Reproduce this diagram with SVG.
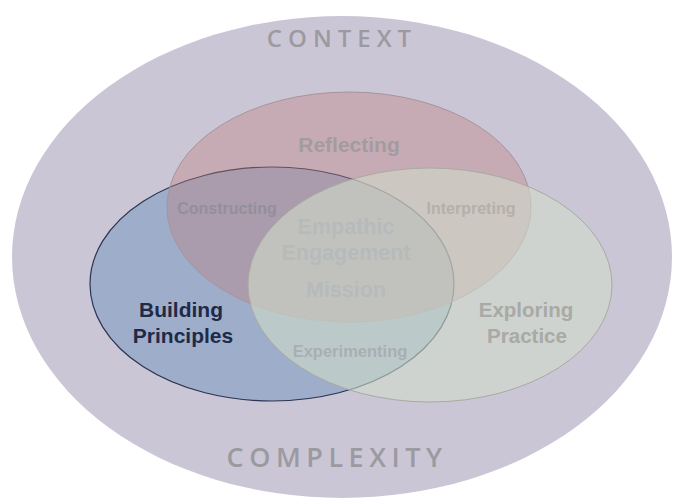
<svg xmlns="http://www.w3.org/2000/svg" width="681" height="499" viewBox="0 0 681 499">
<style>
.big{font-family:"Open Sans","Liberation Sans",sans-serif;font-weight:600;fill:#9b9aa0;text-anchor:middle}
.lbl{font-family:"Liberation Sans",Arial,sans-serif;font-weight:bold;text-anchor:middle}
.g{fill:#a29ca0}
.c{fill:#b6babb}
</style>
<rect width="681" height="499" fill="#ffffff"/>
<g id="context">
<ellipse cx="342" cy="257" rx="330" ry="241" fill="#cbc6d6"/>
<text class="big" x="342" y="47" font-size="24" letter-spacing="6">CONTEXT</text>
<text class="big" x="337" y="467" font-size="27" letter-spacing="5.5">COMPLEXITY</text>
</g>
<g id="building">
<ellipse cx="272" cy="284" rx="182" ry="117" fill="#9eadc9" stroke="#2b3450" stroke-width="1.2"/>
</g>
<g id="reflecting">
<ellipse cx="349" cy="207" rx="182" ry="115" fill="#bc807e" fill-opacity="0.38" stroke="#a8949a" stroke-width="1"/>
</g>
<g id="exploring">
<ellipse cx="430" cy="285" rx="182" ry="117" fill="#d0dcca" fill-opacity="0.6" stroke="#a9aaa2" stroke-width="1"/>
</g>
<g id="labels">
<text class="lbl g" x="349" y="152" font-size="21">Reflecting</text>
<text class="lbl" x="227" y="214" font-size="16" fill="#938f9a">Constructing</text>
<text class="lbl" x="471" y="214" font-size="16" fill="#b4b0aa">Interpreting</text>
<text class="lbl c" x="346" y="234" font-size="21.5">Empathic</text>
<text class="lbl c" x="346" y="260" font-size="21.5">Engagement</text>
<text class="lbl c" x="346" y="297" font-size="21.5">Mission</text>
<text class="lbl" x="181" y="317" font-size="21" fill="#1f2a48">Building</text>
<text class="lbl" x="183" y="343" font-size="21" fill="#1f2a48">Principles</text>
<text class="lbl" x="526" y="317" font-size="20.5" fill="#a9a9a6">Exploring</text>
<text class="lbl" x="527" y="343" font-size="20.5" fill="#a9a9a6">Practice</text>
<text class="lbl" x="350" y="357" font-size="16.5" fill="#a9aeb2">Experimenting</text>
</g>
</svg>
